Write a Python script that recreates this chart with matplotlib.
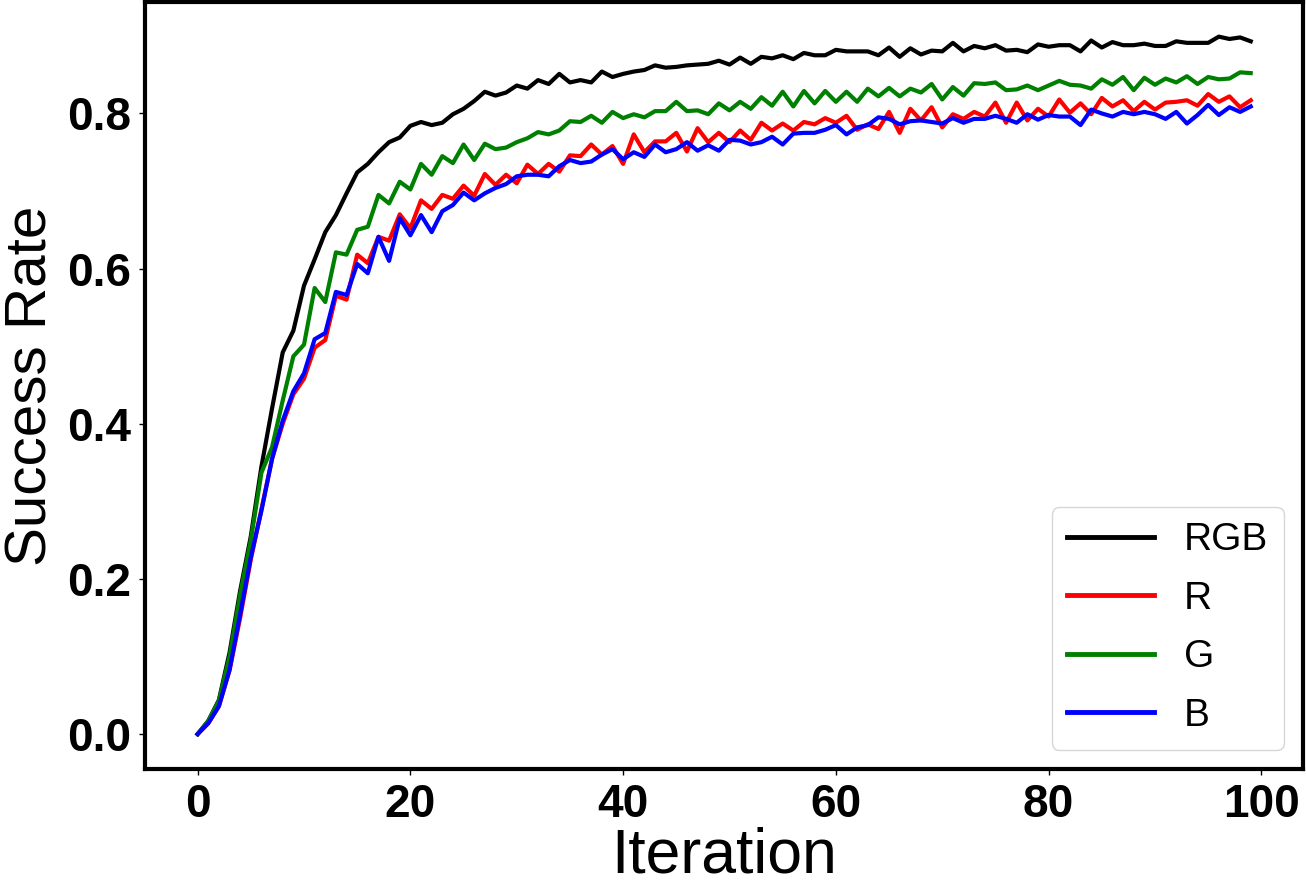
import matplotlib
matplotlib.use('Agg')
import matplotlib.pyplot as plt
import numpy as np

# success rate per iteration
iterations = np.arange(100)

rgb = [0.000, 0.017, 0.044, 0.105, 0.185, 0.255, 0.345, 0.420, 0.492, 0.520,
       0.578, 0.612, 0.647, 0.669, 0.697, 0.724, 0.735, 0.750, 0.763, 0.769,
       0.784, 0.789, 0.785, 0.788, 0.799, 0.806, 0.816, 0.828, 0.823, 0.827,
       0.836, 0.832, 0.843, 0.838, 0.851, 0.840, 0.843, 0.840, 0.854, 0.847,
       0.851, 0.854, 0.856, 0.862, 0.859, 0.860, 0.862, 0.863, 0.864, 0.868,
       0.863, 0.872, 0.864, 0.873, 0.871, 0.875, 0.870, 0.878, 0.875, 0.875,
       0.882, 0.880, 0.880, 0.880, 0.875, 0.885, 0.873, 0.884, 0.876, 0.881,
       0.880, 0.891, 0.880, 0.887, 0.884, 0.888, 0.881, 0.882, 0.879, 0.889,
       0.886, 0.888, 0.888, 0.880, 0.894, 0.885, 0.892, 0.888, 0.888, 0.890,
       0.887, 0.887, 0.893, 0.891, 0.891, 0.891, 0.899, 0.896, 0.898, 0.893]

r = [0.000, 0.014, 0.036, 0.082, 0.150, 0.225, 0.290, 0.355, 0.400, 0.438,
     0.458, 0.498, 0.508, 0.565, 0.560, 0.618, 0.607, 0.641, 0.636, 0.670,
     0.652, 0.688, 0.677, 0.695, 0.690, 0.707, 0.694, 0.722, 0.708, 0.721,
     0.710, 0.734, 0.722, 0.735, 0.725, 0.746, 0.745, 0.760, 0.747, 0.758,
     0.735, 0.773, 0.750, 0.764, 0.764, 0.775, 0.751, 0.781, 0.763, 0.775,
     0.763, 0.778, 0.766, 0.788, 0.778, 0.787, 0.778, 0.789, 0.786, 0.794,
     0.788, 0.797, 0.779, 0.786, 0.780, 0.802, 0.775, 0.806, 0.791, 0.808,
     0.782, 0.799, 0.793, 0.802, 0.796, 0.814, 0.788, 0.814, 0.791, 0.806,
     0.796, 0.818, 0.801, 0.813, 0.799, 0.820, 0.809, 0.817, 0.803, 0.815,
     0.805, 0.814, 0.815, 0.817, 0.810, 0.825, 0.815, 0.822, 0.808, 0.817]

g = [0.000, 0.017, 0.043, 0.100, 0.180, 0.250, 0.337, 0.370, 0.430, 0.487,
     0.502, 0.575, 0.557, 0.621, 0.618, 0.650, 0.654, 0.695, 0.684, 0.712,
     0.702, 0.735, 0.721, 0.745, 0.736, 0.760, 0.740, 0.761, 0.754, 0.756,
     0.763, 0.768, 0.776, 0.773, 0.778, 0.790, 0.789, 0.797, 0.788, 0.802,
     0.794, 0.799, 0.795, 0.803, 0.803, 0.815, 0.803, 0.804, 0.799, 0.813,
     0.804, 0.815, 0.806, 0.821, 0.810, 0.828, 0.809, 0.829, 0.813, 0.829,
     0.815, 0.828, 0.815, 0.832, 0.822, 0.833, 0.822, 0.832, 0.827, 0.838,
     0.818, 0.834, 0.823, 0.839, 0.838, 0.840, 0.830, 0.831, 0.836, 0.830,
     0.836, 0.842, 0.837, 0.836, 0.832, 0.844, 0.837, 0.847, 0.830, 0.846,
     0.837, 0.845, 0.840, 0.848, 0.838, 0.847, 0.844, 0.845, 0.853, 0.852]

b = [0.000, 0.014, 0.036, 0.083, 0.155, 0.228, 0.288, 0.355, 0.404, 0.442,
     0.465, 0.509, 0.517, 0.570, 0.566, 0.606, 0.594, 0.641, 0.610, 0.665,
     0.643, 0.669, 0.647, 0.674, 0.682, 0.698, 0.688, 0.697, 0.704, 0.709,
     0.719, 0.721, 0.721, 0.719, 0.732, 0.740, 0.736, 0.738, 0.747, 0.754,
     0.741, 0.750, 0.744, 0.760, 0.750, 0.754, 0.763, 0.752, 0.759, 0.752,
     0.766, 0.765, 0.760, 0.763, 0.770, 0.760, 0.774, 0.775, 0.775, 0.779,
     0.785, 0.773, 0.782, 0.785, 0.795, 0.793, 0.786, 0.790, 0.791, 0.789,
     0.787, 0.794, 0.788, 0.793, 0.793, 0.797, 0.793, 0.788, 0.799, 0.792,
     0.798, 0.796, 0.796, 0.785, 0.805, 0.800, 0.796, 0.802, 0.799, 0.802,
     0.799, 0.793, 0.802, 0.787, 0.798, 0.811, 0.798, 0.808, 0.802, 0.809]

labels = ['RGB', 'R', 'G', 'B']
colors = ['black', 'red', 'green', 'blue']

font = ['Liberation Sans', 'DejaVu Sans']

fig = plt.figure(figsize=(13.06, 8.89), dpi=100)
ax = fig.add_axes([0.111, 0.135, 0.887, 0.863])

for series, lab, col in zip([rgb, r, g, b], labels, colors):
    ax.plot(iterations, series, color=col, linewidth=3, label=lab)

ax.set_xticks([0, 20, 40, 60, 80, 100])
ax.set_yticks([0.0, 0.2, 0.4, 0.6, 0.8])
ax.set_yticklabels(['0.0', '0.2', '0.4', '0.6', '0.8'])

for lbl in ax.get_xticklabels() + ax.get_yticklabels():
    lbl.set_family(font)
    lbl.set_fontweight('bold')
    lbl.set_fontsize(33)

ax.tick_params(width=1, length=4, pad=6)

for sp in ax.spines.values():
    sp.set_linewidth(3)

ax.set_xlabel('Iteration', fontsize=45, family=font, labelpad=0)
ax.set_ylabel('Success Rate', fontsize=42, family=font, labelpad=6)

leg = ax.legend(loc='lower right', prop={'family': font, 'size': 28},
                handlelength=2.24, handletextpad=0.77, labelspacing=0.58,
                borderpad=0.4)
for line in leg.get_lines():
    line.set_linewidth(3.5)

plt.savefig('out.png', dpi=100)
